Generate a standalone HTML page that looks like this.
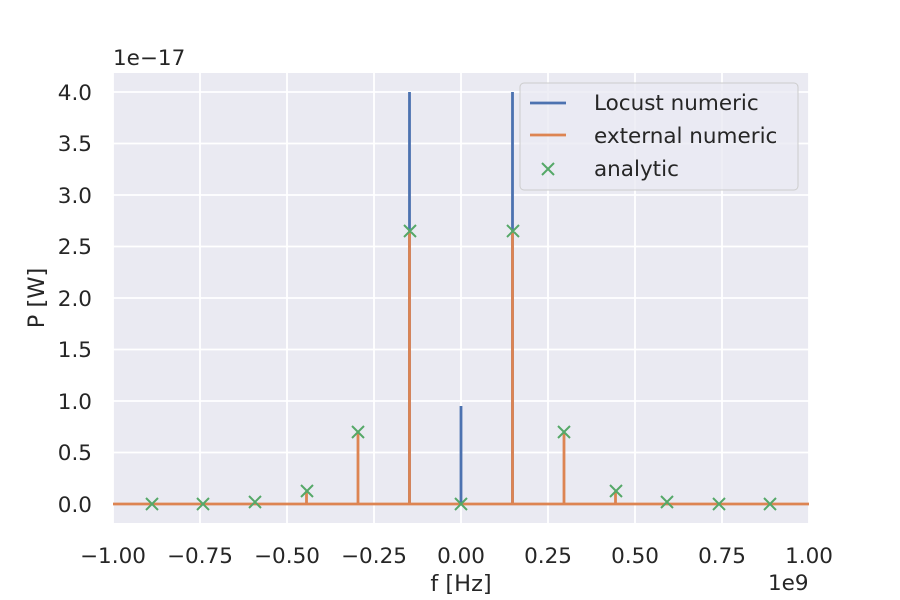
<!DOCTYPE html>
<html><head><style>body{margin:0;background:#fff}svg{display:block}</style></head><body>
<svg width="900" height="600" xmlns="http://www.w3.org/2000/svg" font-family="DejaVu Sans, Liberation Sans, sans-serif" font-size="21.5" fill="#262626">
<rect x="113" y="73" width="696" height="450" fill="#eaeaf2"/>
<g stroke="#fff" stroke-width="1.8">
<line x1="113" x2="113" y1="73" y2="523"/><line x1="200" x2="200" y1="73" y2="523"/><line x1="287" x2="287" y1="73" y2="523"/><line x1="374" x2="374" y1="73" y2="523"/><line x1="461" x2="461" y1="73" y2="523"/><line x1="548" x2="548" y1="73" y2="523"/><line x1="635" x2="635" y1="73" y2="523"/><line x1="722" x2="722" y1="73" y2="523"/><line x1="809" x2="809" y1="73" y2="523"/>
<line x1="113" x2="809" y1="504" y2="504"/><line x1="113" x2="809" y1="452.5" y2="452.5"/><line x1="113" x2="809" y1="401" y2="401"/><line x1="113" x2="809" y1="349.5" y2="349.5"/><line x1="113" x2="809" y1="298" y2="298"/><line x1="113" x2="809" y1="246.5" y2="246.5"/><line x1="113" x2="809" y1="195" y2="195"/><line x1="113" x2="809" y1="143.5" y2="143.5"/><line x1="113" x2="809" y1="92" y2="92"/>
</g>
<g stroke="#4c72b0" stroke-width="2.8">
<line x1="409.5" x2="409.5" y1="92" y2="504"/><line x1="512.5" x2="512.5" y1="92" y2="504"/><line x1="461" x2="461" y1="406" y2="504"/>
</g>
<g stroke="#dd8452" stroke-width="2.8">
<line x1="113" x2="809" y1="504" y2="504"/>
<line x1="409.5" x2="409.5" y1="231" y2="504"/><line x1="512.5" x2="512.5" y1="231" y2="504"/>
<line x1="358" x2="358" y1="432" y2="504"/><line x1="564" x2="564" y1="432" y2="504"/>
<line x1="306.5" x2="306.5" y1="491" y2="504"/><line x1="615.5" x2="615.5" y1="491" y2="504"/>
</g>
<g stroke="#55a868" stroke-width="2">
<path d="M146,498l12,12m0,-12l-12,12 M197,498l12,12m0,-12l-12,12 M249,496l12,12m0,-12l-12,12 M301,485l12,12m0,-12l-12,12 M352,426l12,12m0,-12l-12,12 M404,225l12,12m0,-12l-12,12 M455,498l12,12m0,-12l-12,12 M507,225l12,12m0,-12l-12,12 M558,426l12,12m0,-12l-12,12 M610,485l12,12m0,-12l-12,12 M661,496l12,12m0,-12l-12,12 M713,498l12,12m0,-12l-12,12 M764,498l12,12m0,-12l-12,12"/>
</g>
<g text-anchor="end">
<text x="92" y="512">0.0</text><text x="92" y="460">0.5</text><text x="92" y="409">1.0</text><text x="92" y="357">1.5</text><text x="92" y="306">2.0</text><text x="92" y="254">2.5</text><text x="92" y="203">3.0</text><text x="92" y="151">3.5</text><text x="92" y="100">4.0</text>
</g>
<g text-anchor="middle">
<text x="113" y="563">−1.00</text><text x="200" y="563">−0.75</text><text x="287" y="563">−0.50</text><text x="374" y="563">−0.25</text><text x="461" y="563">0.00</text><text x="548" y="563">0.25</text><text x="635" y="563">0.50</text><text x="722" y="563">0.75</text><text x="809" y="563">1.00</text>
<text x="461" y="591" font-size="22.5">f [Hz]</text>
</g>
<text x="768" y="590">1e9</text>
<text x="113" y="65">1e−17</text>
<text transform="translate(44,298) rotate(-90)" text-anchor="middle" font-size="22.5">P [W]</text>
<rect x="520" y="83" width="278" height="107" rx="4" fill="#eaeaf2" fill-opacity="0.8" stroke="#ccc"/>
<line x1="530" x2="566" y1="103" y2="103" stroke="#4c72b0" stroke-width="2.8"/>
<line x1="530" x2="566" y1="135" y2="135" stroke="#dd8452" stroke-width="2.8"/>
<path d="M542,163l12,12m0,-12l-12,12" stroke="#55a868" stroke-width="2"/>
<text x="594" y="110">Locust numeric</text><text x="594" y="143">external numeric</text><text x="594" y="176">analytic</text>
</svg>
</body></html>
